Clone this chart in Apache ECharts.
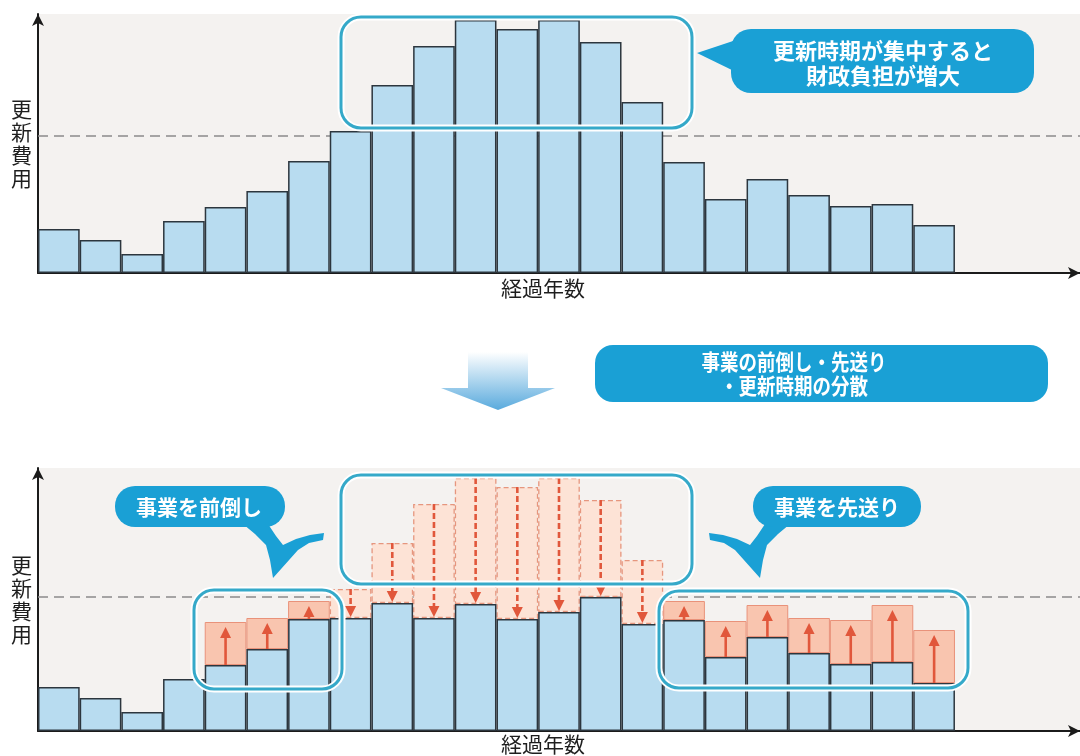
<!DOCTYPE html>
<html>
<head>
<meta charset="utf-8">
<style>
html, body { margin: 0; padding: 0; background: #ffffff; }
#chart { width: 1080px; height: 756px; }
</style>
<script src="https://cdn.jsdelivr.net/npm/echarts@6/dist/echarts.min.js"></script>
</head>
<body>
<div id="chart"></div>
<script>
// 経過年数 (ticks are hidden, 25 slots, last 3 empty)
const years = ['1', '2', '3', '4', '5', '6', '7', '8', '9', '10', '11', '12', '13',
    '14', '15', '16', '17', '18', '19', '20', '21', '22', '23', '24', '25'];
// 更新費用 before leveling (upper chart)
const costBefore = [44, 33, 19, 52, 66, 82, 112, 142, 188, 227, 253, 244,
    253, 231, 171, 111, 74, 94, 78, 67, 69, 48];
// 更新費用 after 前倒し・先送り (lower chart)
const costAfter = [44, 33, 19, 52, 109, 113, 130, 113, 128, 113, 127, 112,
    119, 134, 107, 130, 110, 126, 113, 111, 126, 101];
const levelBefore = 137;
const levelAfter = 134;

const FONT = '"Noto Sans CJK JP", "Noto Sans", sans-serif';
const BAR_BLUE = '#b8dcf0';
const BAR_EDGE = '#2c363e';
const TEAL = '#35a9c9';
const BUBBLE = '#1aa0d5';
const ARROW_RED = '#e1573b';

// lower chart pieces, built from the two series above
const baseAfter = costAfter.map((v, i) => Math.min(v, costBefore[i]));
const addedPart = costAfter.map((v, i) => (v > costBefore[i] ? v - costBefore[i] : '-'));
const removedPart = costAfter.map((v, i) => (v < costBefore[i] ? costBefore[i] - v : '-'));
const arrowData = [];
costAfter.forEach((v, i) => {
    if (v > costBefore[i]) arrowData.push([i, costBefore[i], v, 0]);
    if (v < costBefore[i]) arrowData.push([i, costBefore[i], v, 1]);
});

function renderArrow(params, api) {
    const idx = api.value(0);
    const p0 = api.coord([idx, api.value(1)]);
    const p1 = api.coord([idx, api.value(2)]);
    const dashed = api.value(3) === 1;
    const dir = p1[1] > p0[1] ? 1 : -1;
    const tip = p1[1] - dir * (dashed ? 1 : 5);
    const head = 11;
    const cx = p0[0];
    return {
        type: 'group',
        children: [
            {
                type: 'line',
                shape: { x1: cx, y1: p0[1], x2: cx, y2: tip - dir * head },
                style: { stroke: ARROW_RED, lineWidth: 2.6, lineDash: dashed ? [6, 3] : null }
            },
            {
                type: 'polygon',
                shape: { points: [[cx, tip], [cx - 5.5, tip - dir * head], [cx + 5.5, tip - dir * head]] },
                style: { fill: ARROW_RED }
            }
        ]
    };
}

function frame(x, y, w, h) {
    return [
        { type: 'rect', z: 100, shape: { x: x, y: y, width: w, height: h, r: 20 },
          style: { fill: null, stroke: '#ffffff', lineWidth: 7 } },
        { type: 'rect', z: 101, shape: { x: x, y: y, width: w, height: h, r: 20 },
          style: { fill: null, stroke: TEAL, lineWidth: 3 } }
    ];
}

function label(text, x, y, size, scaleX) {
    return {
        type: 'text', z: 103, x: x, y: y, scaleX: scaleX || 1,
        style: {
            text: text, x: 0, y: 0, fill: '#ffffff', font: 'bold ' + size + 'px ' + FONT,
            textAlign: 'center', textVerticalAlign: 'middle'
        }
    };
}

// callout tail with swoosh; mirror flips it around x = 516.5
function tail(mirror) {
    const pts = [[243, 524], [268, 524], [276, 536], [283, 545], [296, 539], [310, 535], [324, 533],
        [323, 540], [309, 543], [298, 550], [273, 578], [270, 560], [266, 545], [255, 534]];
    return {
        type: 'polygon', z: 102,
        shape: { points: pts.map(p => [mirror ? 1033 - p[0] : p[0], p[1]]) },
        style: { fill: BUBBLE }
    };
}

function axisLineStyle() {
    return {
        show: true,
        symbol: ['none', 'arrow'],
        symbolSize: [9, 12],
        lineStyle: { color: '#1b1b1b', width: 2 }
    };
}

function xAxisFor(gridIndex, gap) {
    return {
        type: 'category', gridIndex: gridIndex, data: years,
        name: '経過年数', nameLocation: 'middle', nameGap: gap,
        nameTextStyle: { fontFamily: FONT, fontSize: 21, color: '#1e1e1e', padding: [0, 32, 0, 0] },
        axisLine: axisLineStyle(), axisTick: { show: false }, axisLabel: { show: false },
        splitLine: { show: false }
    };
}

function yAxisFor(gridIndex, max) {
    return {
        type: 'value', gridIndex: gridIndex, min: 0, max: max,
        name: '更\n新\n費\n用', nameLocation: 'middle', nameRotate: 0, nameGap: 6,
        nameTextStyle: { fontFamily: FONT, fontSize: 21, color: '#1e1e1e', lineHeight: 23 },
        axisLine: axisLineStyle(), axisTick: { show: false }, axisLabel: { show: false },
        splitLine: { show: false }
    };
}

function levelLine(xi, value) {
    return {
        type: 'line', xAxisIndex: xi, yAxisIndex: xi, data: [], z: 1,
        markLine: {
            z: 1, silent: true, symbol: 'none', label: { show: false },
            lineStyle: { color: '#8a8a8a', type: [10, 6], width: 1.5 },
            data: [{ yAxis: value }]
        }
    };
}

const chart = echarts.init(document.getElementById('chart'));
chart.setOption({
    animation: false,
    backgroundColor: '#ffffff',
    grid: [
        { left: 38, right: 0, top: 14, height: 259, show: true, backgroundColor: '#f4f2f0', borderWidth: 0 },
        { left: 38, right: 0, top: 468, height: 263, show: true, backgroundColor: '#f4f2f0', borderWidth: 0 }
    ],
    xAxis: [xAxisFor(0, 5), xAxisFor(1, 3)],
    yAxis: [yAxisFor(0, 259), yAxisFor(1, 263)],
    series: [
        levelLine(0, levelBefore),
        {
            type: 'bar', xAxisIndex: 0, yAxisIndex: 0, data: costBefore, z: 3,
            barCategoryGap: '0%',
            itemStyle: { color: BAR_BLUE, borderColor: BAR_EDGE, borderWidth: 1.5 }
        },
        levelLine(1, levelAfter),
        {
            type: 'bar', xAxisIndex: 1, yAxisIndex: 1, data: baseAfter, z: 4, stack: 'after',
            barCategoryGap: '0%',
            itemStyle: { color: BAR_BLUE, borderColor: BAR_EDGE, borderWidth: 1.5 }
        },
        {
            type: 'bar', xAxisIndex: 1, yAxisIndex: 1, data: addedPart, z: 3, stack: 'after',
            barCategoryGap: '0%',
            itemStyle: { color: '#f9c5af', borderColor: '#e9927a', borderWidth: 1 }
        },
        {
            type: 'bar', xAxisIndex: 1, yAxisIndex: 1, data: removedPart, z: 3, stack: 'after',
            barCategoryGap: '0%',
            itemStyle: { color: '#fde3d6', borderColor: '#e6967e', borderWidth: 1.3, borderType: [5, 3] }
        },
        {
            type: 'custom', xAxisIndex: 1, yAxisIndex: 1, data: arrowData, z: 5,
            encode: { x: 0, y: [1, 2] },
            renderItem: renderArrow
        }
    ],
    graphic: [].concat(
        frame(341, 17, 351, 111),
        [
            { type: 'polygon', z: 102, shape: { points: [[697, 53], [736, 40], [736, 72]] }, style: { fill: BUBBLE } },
            { type: 'rect', z: 102, shape: { x: 731, y: 29, width: 303, height: 64, r: 20 }, style: { fill: BUBBLE } },
            label('更新時期が集中すると', 883, 51, 22),
            label('財政負担が増大', 883, 76, 22),
            {
                type: 'polygon', z: 102,
                shape: { points: [[468, 352], [528, 352], [528, 388], [555, 388], [498, 410], [441, 388], [468, 388]] },
                style: {
                    fill: new echarts.graphic.LinearGradient(0, 0, 0, 1, [
                        { offset: 0, color: '#ffffff' },
                        { offset: 1, color: '#59aadd' }
                    ])
                }
            },
            { type: 'rect', z: 102, shape: { x: 595, y: 345, width: 453, height: 57, r: 18 }, style: { fill: BUBBLE } },
            label('事業の前倒し・先送り', 794, 362, 22, 0.84),
            label('・更新時期の分散', 794, 386, 22, 0.84)
        ],
        frame(341, 475, 351, 109),
        frame(194, 590, 148, 99),
        frame(659, 591, 309, 97),
        [
            tail(false),
            { type: 'rect', z: 102, shape: { x: 115, y: 486, width: 170, height: 41, r: 20 }, style: { fill: BUBBLE } },
            label('事業を前倒し', 199, 507, 21),
            tail(true),
            { type: 'rect', z: 102, shape: { x: 753, y: 486, width: 168, height: 41, r: 20 }, style: { fill: BUBBLE } },
            label('事業を先送り', 837, 507, 21)
        ]
    )
});
</script>
</body>
</html>
